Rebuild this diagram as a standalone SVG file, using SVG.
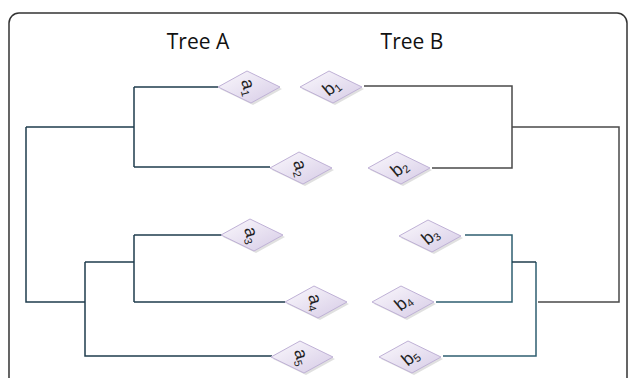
<svg xmlns="http://www.w3.org/2000/svg" width="629" height="378" viewBox="0 0 629 378">
<style>
.frame{fill:#ffffff;stroke:#333333;stroke-width:1.5}
.title{font-family:"Open Sans","Liberation Sans",sans-serif;font-size:21px;fill:#111111;text-anchor:middle}
.edgeA{fill:none;stroke:#1f3d4d;stroke-width:1.5}
.edgeG{fill:none;stroke:#4a4a4a;stroke-width:1.5}
.edgeT{fill:none;stroke:#2f5f70;stroke-width:1.5}
.dia{fill:url(#dg);stroke:#bfb1d6;stroke-width:1}
.sh{fill:#000000;opacity:0.12}
.lab{font-family:"Liberation Sans","DejaVu Sans",sans-serif;font-size:18px;fill:#222222;text-anchor:middle}
.sub{font-size:11px}
</style>
<defs>
<linearGradient id="dg" x1="0" y1="0" x2="1" y2="1">
<stop offset="0" stop-color="#fbf9fd"/>
<stop offset="1" stop-color="#d6cbe6"/>
</linearGradient>
<polygon id="d" points="-31,0 -2,-16 31,0 2,16"/>
<polygon id="s" points="-29,2 0,-14 33,2 4,18"/>
</defs>
<rect class="frame" x="9" y="13" width="618" height="420" rx="10"/>
<text class="title" x="198" y="49">Tree A</text>
<text class="title" x="412" y="49">Tree B</text>
<g id="connectors">
<path class="edgeA" d="M26,127 H134 M134,87 V167 M134,87 H218 M134,167 H270 M26,127 V302 H85 M85,262 V356 H272 M85,262 H134 M134,235 V302 M134,235 H222 M134,302 H285"/>
<path class="edgeG" d="M364,86 H512 V168 H432 M512,127 H619 V302 H538"/>
<path class="edgeT" d="M465,235 H512 V302 H436 M536,262 V356 H443"/>
<path class="edgeA" d="M512,262 H536"/>
</g>
<g id="a1" transform="translate(249,87)"><use href="#s" class="sh"/><use href="#d" class="dia"/><text class="lab" transform="rotate(75)" y="6">a<tspan class="sub" dy="3">1</tspan></text></g>
<g id="b1" transform="translate(331,87)"><use href="#s" class="sh"/><use href="#d" class="dia"/><text class="lab" transform="rotate(-40)" y="6">b<tspan class="sub" dy="3">1</tspan></text></g>
<g id="a2" transform="translate(301,168)"><use href="#s" class="sh"/><use href="#d" class="dia"/><text class="lab" transform="rotate(75)" y="6">a<tspan class="sub" dy="3">2</tspan></text></g>
<g id="b2" transform="translate(399,168)"><use href="#s" class="sh"/><use href="#d" class="dia"/><text class="lab" transform="rotate(-40)" y="6">b<tspan class="sub" dy="3">2</tspan></text></g>
<g id="a3" transform="translate(252,235)"><use href="#s" class="sh"/><use href="#d" class="dia"/><text class="lab" transform="rotate(75)" y="6">a<tspan class="sub" dy="3">3</tspan></text></g>
<g id="b3" transform="translate(430,236)"><use href="#s" class="sh"/><use href="#d" class="dia"/><text class="lab" transform="rotate(-40)" y="6">b<tspan class="sub" dy="3">3</tspan></text></g>
<g id="a4" transform="translate(316,302)"><use href="#s" class="sh"/><use href="#d" class="dia"/><text class="lab" transform="rotate(75)" y="6">a<tspan class="sub" dy="3">4</tspan></text></g>
<g id="b4" transform="translate(403,302)"><use href="#s" class="sh"/><use href="#d" class="dia"/><text class="lab" transform="rotate(-40)" y="6">b<tspan class="sub" dy="3">4</tspan></text></g>
<g id="a5" transform="translate(302,357)"><use href="#s" class="sh"/><use href="#d" class="dia"/><text class="lab" transform="rotate(75)" y="6">a<tspan class="sub" dy="3">5</tspan></text></g>
<g id="b5" transform="translate(410,357)"><use href="#s" class="sh"/><use href="#d" class="dia"/><text class="lab" transform="rotate(-40)" y="6">b<tspan class="sub" dy="3">5</tspan></text></g>
</svg>
